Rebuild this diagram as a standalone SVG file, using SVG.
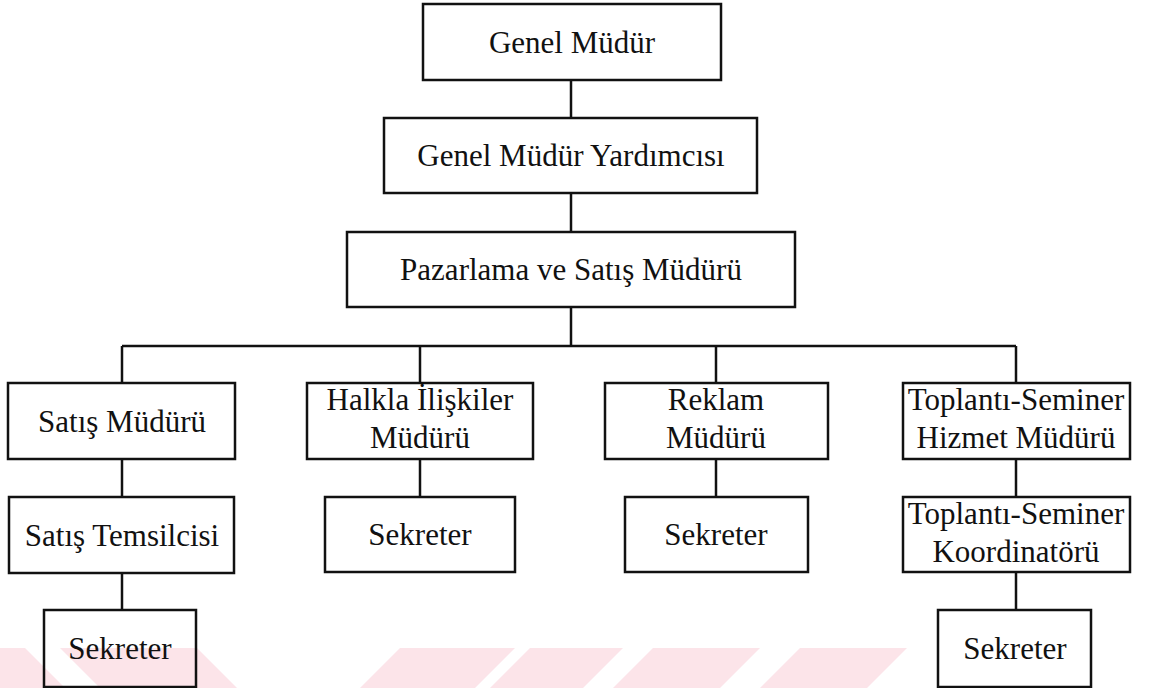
<svg xmlns="http://www.w3.org/2000/svg" width="1152" height="688" viewBox="0 0 1152 688">
  <style>
    .box { fill: none; stroke: #111; stroke-width: 2.5; }
    .lbl { font-family: "Liberation Serif", "Times New Roman", serif; font-size: 31px; fill: #111; text-anchor: middle; }
    .wire { fill: none; stroke: #111; stroke-width: 2.5; }
    .mark { fill: #fce4e9; }
  </style>

  <rect width="1152" height="688" fill="#ffffff"/>

  <!-- faint diagonal band strip along the bottom edge -->
  <g id="watermark">
    <polygon class="mark" points="0,648 25,648 65,688 0,688"/>
    <polygon class="mark" points="60,648 197,648 237,688 100,688"/>
    <polygon class="mark" points="400,648 515,648 475,688 360,688"/>
    <polygon class="mark" points="530,648 623,648 583,688 490,688"/>
    <polygon class="mark" points="653,648 760,648 720,688 613,688"/>
    <polygon class="mark" points="800,648 907,648 867,688 760,688"/>
  </g>

  <g id="connectors">
    <line class="wire" x1="571" y1="80" x2="571" y2="118"/>
    <line class="wire" x1="571" y1="193" x2="571" y2="232"/>
    <line class="wire" x1="571" y1="307" x2="571" y2="346"/>
    <line class="wire" x1="122" y1="346" x2="1016" y2="346"/>
    <line class="wire" x1="122" y1="346" x2="122" y2="383"/>
    <line class="wire" x1="420" y1="346" x2="420" y2="383"/>
    <line class="wire" x1="716" y1="346" x2="716" y2="383"/>
    <line class="wire" x1="1016" y1="346" x2="1016" y2="383"/>
    <line class="wire" x1="122" y1="459" x2="122" y2="497"/>
    <line class="wire" x1="420" y1="459" x2="420" y2="497"/>
    <line class="wire" x1="716" y1="459" x2="716" y2="497"/>
    <line class="wire" x1="1016" y1="459" x2="1016" y2="497"/>
    <line class="wire" x1="122" y1="573" x2="122" y2="610"/>
    <line class="wire" x1="1016" y1="572" x2="1016" y2="610"/>
  </g>

  <g id="genel-mudur">
    <rect class="box" x="423" y="4" width="298" height="76"/>
    <text class="lbl" x="572" y="53">Genel Müdür</text>
  </g>

  <g id="genel-mudur-yardimcisi">
    <rect class="box" x="384" y="118" width="373" height="75"/>
    <text class="lbl" x="571" y="166">Genel Müdür Yardımcısı</text>
  </g>

  <g id="pazarlama-satis-muduru">
    <rect class="box" x="347" y="232" width="448" height="75"/>
    <text class="lbl" x="571" y="280">Pazarlama ve Satış Müdürü</text>
  </g>

  <g id="satis-muduru">
    <rect class="box" x="8" y="383" width="227" height="76"/>
    <text class="lbl" x="122" y="432">Satış Müdürü</text>
  </g>

  <g id="halkla-iliskiler-muduru">
    <rect class="box" x="307" y="383" width="226" height="76"/>
    <text class="lbl" x="420" y="410">Halkla İlişkiler</text>
    <text class="lbl" x="420" y="448">Müdürü</text>
  </g>

  <g id="reklam-muduru">
    <rect class="box" x="605" y="383" width="223" height="76"/>
    <text class="lbl" x="716" y="410">Reklam</text>
    <text class="lbl" x="716" y="448">Müdürü</text>
  </g>

  <g id="toplanti-seminer-hizmet-muduru">
    <rect class="box" x="903" y="383" width="227" height="76"/>
    <text class="lbl" x="1016" y="410">Toplantı-Seminer</text>
    <text class="lbl" x="1016" y="448">Hizmet Müdürü</text>
  </g>

  <g id="satis-temsilcisi">
    <rect class="box" x="9" y="497" width="225" height="76"/>
    <text class="lbl" x="122" y="546">Satış Temsilcisi</text>
  </g>

  <g id="sekreter-halkla">
    <rect class="box" x="325" y="497" width="190" height="75"/>
    <text class="lbl" x="420" y="545">Sekreter</text>
  </g>

  <g id="sekreter-reklam">
    <rect class="box" x="625" y="497" width="183" height="75"/>
    <text class="lbl" x="716" y="545">Sekreter</text>
  </g>

  <g id="toplanti-seminer-koordinatoru">
    <rect class="box" x="903" y="497" width="227" height="75"/>
    <text class="lbl" x="1016" y="524">Toplantı-Seminer</text>
    <text class="lbl" x="1016" y="562">Koordinatörü</text>
  </g>

  <g id="sekreter-satis">
    <rect class="box" x="44" y="610" width="152" height="77"/>
    <text class="lbl" x="120" y="659">Sekreter</text>
  </g>

  <g id="sekreter-toplanti">
    <rect class="box" x="938" y="610" width="153" height="77"/>
    <text class="lbl" x="1015" y="659">Sekreter</text>
  </g>
</svg>
